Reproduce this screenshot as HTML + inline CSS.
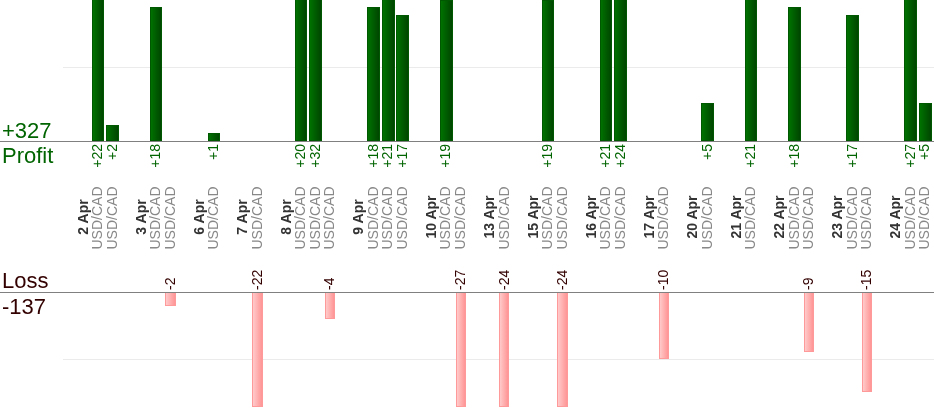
<!DOCTYPE html>
<html><head><meta charset="utf-8"><style>
html,body{margin:0;padding:0;background:#fff;}
body{width:934px;height:420px;overflow:hidden;position:relative;font-family:"Liberation Sans",sans-serif;}
.hl{position:absolute;left:0;width:934px;height:1px;background:#808080;}
.gl{position:absolute;left:63px;width:871px;height:1px;background:#ebebeb;}
.big{position:absolute;left:2px;font-size:22px;line-height:22px;white-space:nowrap;}
.g{color:#006400;}
.m{color:#330000;}
.lb,.pv,.lv{position:absolute;font-size:14px;line-height:14.52px;height:14.52px;white-space:nowrap;transform-origin:0 0;transform:rotate(-90deg);}
.lb{top:267.9px;width:100px;text-align:center;}
.d{font-weight:bold;color:#333;margin-top:-1px;}
.u{color:#888;}
.pv{top:184px;width:40px;text-align:right;color:#006400;}
.lv{top:289.6px;width:40px;text-align:left;color:#330000;}
.pb{position:absolute;width:12.65px;box-sizing:border-box;border:1px solid #005800;background:linear-gradient(to right,#007200,#004600);}
.lbar{position:absolute;width:10.2px;box-sizing:border-box;border:1px solid #ff9a9a;background:linear-gradient(to right,#ffcaca,#ff9595);}
#c{position:absolute;left:0;top:0;width:934px;height:420px;will-change:transform;background:#fff;}
</style></head><body><div id="c">
<div class="gl" style="top:67px"></div>
<div class="gl" style="top:359px"></div>
<div class="lb d" style="left:75.54px">2 Apr</div>
<div class="lb u" style="left:90.05px">USD/CAD</div>
<div class="pb" style="left:91.58px;top:-10px;height:151px"></div>
<div class="pv" style="left:90.05px">+22</div>
<div class="lb u" style="left:104.57px">USD/CAD</div>
<div class="pb" style="left:106.1px;top:125px;height:16px"></div>
<div class="pv" style="left:104.57px">+2</div>
<div class="lb d" style="left:133.6px">3 Apr</div>
<div class="lb u" style="left:148.12px">USD/CAD</div>
<div class="pb" style="left:149.65px;top:7px;height:134px"></div>
<div class="pv" style="left:148.12px">+18</div>
<div class="lb u" style="left:162.63px">USD/CAD</div>
<div class="lbar" style="left:165.39px;top:292px;height:14px"></div>
<div class="lv" style="left:162.63px">-2</div>
<div class="lb d" style="left:191.66px">6 Apr</div>
<div class="lb u" style="left:206.18px">USD/CAD</div>
<div class="pb" style="left:207.71px;top:133px;height:8px"></div>
<div class="pv" style="left:206.18px">+1</div>
<div class="lb d" style="left:235.21px">7 Apr</div>
<div class="lb u" style="left:249.73px">USD/CAD</div>
<div class="lbar" style="left:252.49px;top:292px;height:115px"></div>
<div class="lv" style="left:249.73px">-22</div>
<div class="lb d" style="left:278.76px">8 Apr</div>
<div class="lb u" style="left:293.28px">USD/CAD</div>
<div class="pb" style="left:294.81px;top:-10px;height:151px"></div>
<div class="pv" style="left:293.28px">+20</div>
<div class="lb u" style="left:307.79px">USD/CAD</div>
<div class="pb" style="left:309.32px;top:-10px;height:151px"></div>
<div class="pv" style="left:307.79px">+32</div>
<div class="lb u" style="left:322.31px">USD/CAD</div>
<div class="lbar" style="left:325.07px;top:292px;height:27px"></div>
<div class="lv" style="left:322.31px">-4</div>
<div class="lb d" style="left:351.34px">9 Apr</div>
<div class="lb u" style="left:365.86px">USD/CAD</div>
<div class="pb" style="left:367.39px;top:7px;height:134px"></div>
<div class="pv" style="left:365.86px">+18</div>
<div class="lb u" style="left:380.37px">USD/CAD</div>
<div class="pb" style="left:381.9px;top:-10px;height:151px"></div>
<div class="pv" style="left:380.37px">+21</div>
<div class="lb u" style="left:394.89px">USD/CAD</div>
<div class="pb" style="left:396.42px;top:15px;height:126px"></div>
<div class="pv" style="left:394.89px">+17</div>
<div class="lb d" style="left:423.92px">10 Apr</div>
<div class="lb u" style="left:438.44px">USD/CAD</div>
<div class="pb" style="left:439.97px;top:0px;height:141px"></div>
<div class="pv" style="left:438.44px">+19</div>
<div class="lb u" style="left:452.95px">USD/CAD</div>
<div class="lbar" style="left:455.71px;top:292px;height:115px"></div>
<div class="lv" style="left:452.95px">-27</div>
<div class="lb d" style="left:481.98px">13 Apr</div>
<div class="lb u" style="left:496.5px">USD/CAD</div>
<div class="lbar" style="left:499.26px;top:292px;height:115px"></div>
<div class="lv" style="left:496.5px">-24</div>
<div class="lb d" style="left:525.53px">15 Apr</div>
<div class="lb u" style="left:540.05px">USD/CAD</div>
<div class="pb" style="left:541.58px;top:0px;height:141px"></div>
<div class="pv" style="left:540.05px">+19</div>
<div class="lb u" style="left:554.56px">USD/CAD</div>
<div class="lbar" style="left:557.32px;top:292px;height:115px"></div>
<div class="lv" style="left:554.56px">-24</div>
<div class="lb d" style="left:583.6px">16 Apr</div>
<div class="lb u" style="left:598.11px">USD/CAD</div>
<div class="pb" style="left:599.64px;top:-10px;height:151px"></div>
<div class="pv" style="left:598.11px">+21</div>
<div class="lb u" style="left:612.63px">USD/CAD</div>
<div class="pb" style="left:614.16px;top:-10px;height:151px"></div>
<div class="pv" style="left:612.63px">+24</div>
<div class="lb d" style="left:641.66px">17 Apr</div>
<div class="lb u" style="left:656.18px">USD/CAD</div>
<div class="lbar" style="left:658.94px;top:292px;height:67px"></div>
<div class="lv" style="left:656.18px">-10</div>
<div class="lb d" style="left:685.21px">20 Apr</div>
<div class="lb u" style="left:699.72px">USD/CAD</div>
<div class="pb" style="left:701.25px;top:103px;height:38px"></div>
<div class="pv" style="left:699.72px">+5</div>
<div class="lb d" style="left:728.76px">21 Apr</div>
<div class="lb u" style="left:743.27px">USD/CAD</div>
<div class="pb" style="left:744.8px;top:-10px;height:151px"></div>
<div class="pv" style="left:743.27px">+21</div>
<div class="lb d" style="left:772.3px">22 Apr</div>
<div class="lb u" style="left:786.82px">USD/CAD</div>
<div class="pb" style="left:788.35px;top:7px;height:134px"></div>
<div class="pv" style="left:786.82px">+18</div>
<div class="lb u" style="left:801.34px">USD/CAD</div>
<div class="lbar" style="left:804.1px;top:292px;height:60px"></div>
<div class="lv" style="left:801.34px">-9</div>
<div class="lb d" style="left:830.37px">23 Apr</div>
<div class="lb u" style="left:844.88px">USD/CAD</div>
<div class="pb" style="left:846.41px;top:15px;height:126px"></div>
<div class="pv" style="left:844.88px">+17</div>
<div class="lb u" style="left:859.4px">USD/CAD</div>
<div class="lbar" style="left:862.16px;top:292px;height:100px"></div>
<div class="lv" style="left:859.4px">-15</div>
<div class="lb d" style="left:888.43px">24 Apr</div>
<div class="lb u" style="left:902.95px">USD/CAD</div>
<div class="pb" style="left:904.48px;top:-10px;height:151px"></div>
<div class="pv" style="left:902.95px">+27</div>
<div class="lb u" style="left:917.46px">USD/CAD</div>
<div class="pb" style="left:918.99px;top:103px;height:38px"></div>
<div class="pv" style="left:917.46px">+5</div>
<div class="hl" style="top:141px"></div>
<div class="hl" style="top:292px"></div>
<div class="big g" style="top:120.4px">+327</div>
<div class="big g" style="top:145.4px">Profit</div>
<div class="big m" style="top:270.4px">Loss</div>
<div class="big m" style="top:296px">-137</div>
</div></body></html>
